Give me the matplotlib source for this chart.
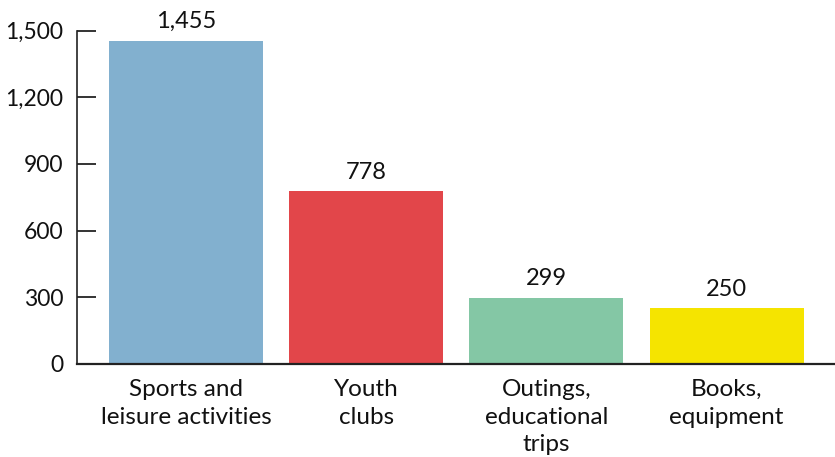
import matplotlib.pyplot as plt
import numpy as np

categories = ["Sports and\nleisure activities", "Youth\nclubs",
              "Outings,\neducational\ntrips", "Books,\nequipment"]
values = [1455, 778, 299, 250]
colors = ["#82b0cf", "#e2464a", "#84c7a5", "#f5e400"]
yticks = [0, 300, 600, 900, 1200, 1500]

plt.rcParams["font.family"] = ["Lato", "DejaVu Sans"]

fig = plt.figure(figsize=(8.35, 4.57), dpi=100)
ax = fig.add_axes([77 / 835, 93 / 457, 1 - 77 / 835, (364 - 30.5) / 457])

x = np.arange(len(values))
bars = ax.bar(x, values, width=0.855, color=colors)

for b, v in zip(bars, values):
    ax.annotate(f"{v:,}", (b.get_x() + b.get_width() / 2, v),
                xytext=(0, 6), textcoords="offset points",
                ha="center", va="bottom", fontsize=17, color="#111111",
                annotation_clip=False)

ax.set_xlim(-0.605, 3.602)
ax.set_ylim(0, 1500)
ax.set_yticks(yticks)
ax.set_yticklabels([f"{t:,}" for t in yticks])
ax.set_xticks(x)
ax.set_xticklabels(categories, linespacing=1.38, fontsize=17.5)

ax.tick_params(axis="y", direction="in", length=13.5, width=1.2,
               pad=10, labelsize=16.5, colors="#111111")
ax.tick_params(axis="x", length=0, pad=11, colors="#111111")

for side in ["top", "right"]:
    ax.spines[side].set_visible(False)
ax.spines["left"].set_linewidth(1.2)
ax.spines["bottom"].set_linewidth(1.6)
ax.spines["left"].set_color("#222222")
ax.spines["bottom"].set_color("#222222")

fig.savefig("out.png", dpi=100)
